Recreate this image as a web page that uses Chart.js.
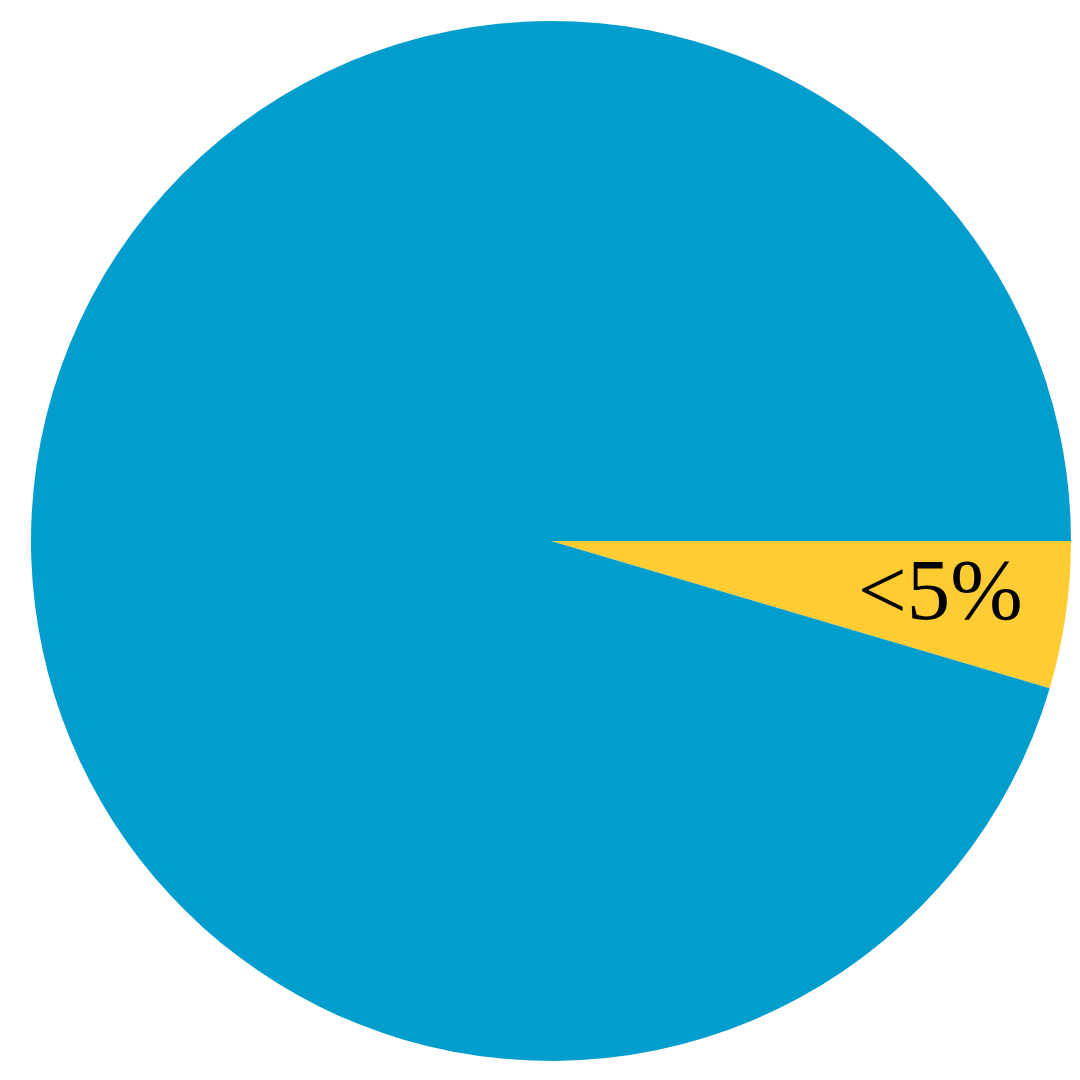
<!DOCTYPE html>
<html lang="en">
<head>
    <meta charset="UTF-8">
    <title>Share pie</title>
    <script src="https://cdn.jsdelivr.net/npm/chart.js"></script>
    <style>
        html, body { margin: 0; padding: 0; background: #ffffff; }
        #wrap { width: 1080px; height: 1080px; }
    </style>
</head>
<body>
    <div id="wrap"><canvas id="pieChart"></canvas></div>
    <script>
        // slice values (share of the whole)
        const categories = ['small', 'rest'];
        const shares = [4.57, 95.43];
        const sliceLabels = ['<5%', ''];
        const sliceColors = ['#FFCC33', '#019DCC'];

        // writes the text label inside each slice
        const sliceText = {
            id: 'sliceText',
            afterDatasetsDraw(chart) {
                const ctx = chart.ctx;
                const meta = chart.getDatasetMeta(0);
                meta.data.forEach((arc, i) => {
                    if (!sliceLabels[i]) return;
                    const p = arc.getProps(['x', 'y', 'startAngle', 'endAngle', 'outerRadius']);
                    const mid = (p.startAngle + p.endAngle) / 2 - 0.003;
                    const r = p.outerRadius * 0.756;
                    ctx.save();
                    ctx.font = '87px "Liberation Serif", serif';
                    ctx.fillStyle = '#000000';
                    ctx.textAlign = 'center';
                    ctx.textBaseline = 'middle';
                    ctx.fillText(sliceLabels[i], p.x + Math.cos(mid) * r, p.y + Math.sin(mid) * r);
                    ctx.restore();
                });
            }
        };

        new Chart(document.getElementById('pieChart'), {
            type: 'pie',
            data: {
                labels: categories,
                datasets: [{
                    data: shares,
                    backgroundColor: sliceColors,
                    borderWidth: 0
                }]
            },
            options: {
                responsive: true,
                maintainAspectRatio: false,
                animation: false,
                rotation: 90,
                layout: { padding: { left: 31, top: 21, right: 9, bottom: 19 } },
                plugins: {
                    legend: { display: false },
                    tooltip: { enabled: false }
                }
            },
            plugins: [sliceText]
        });
    </script>
</body>
</html>
